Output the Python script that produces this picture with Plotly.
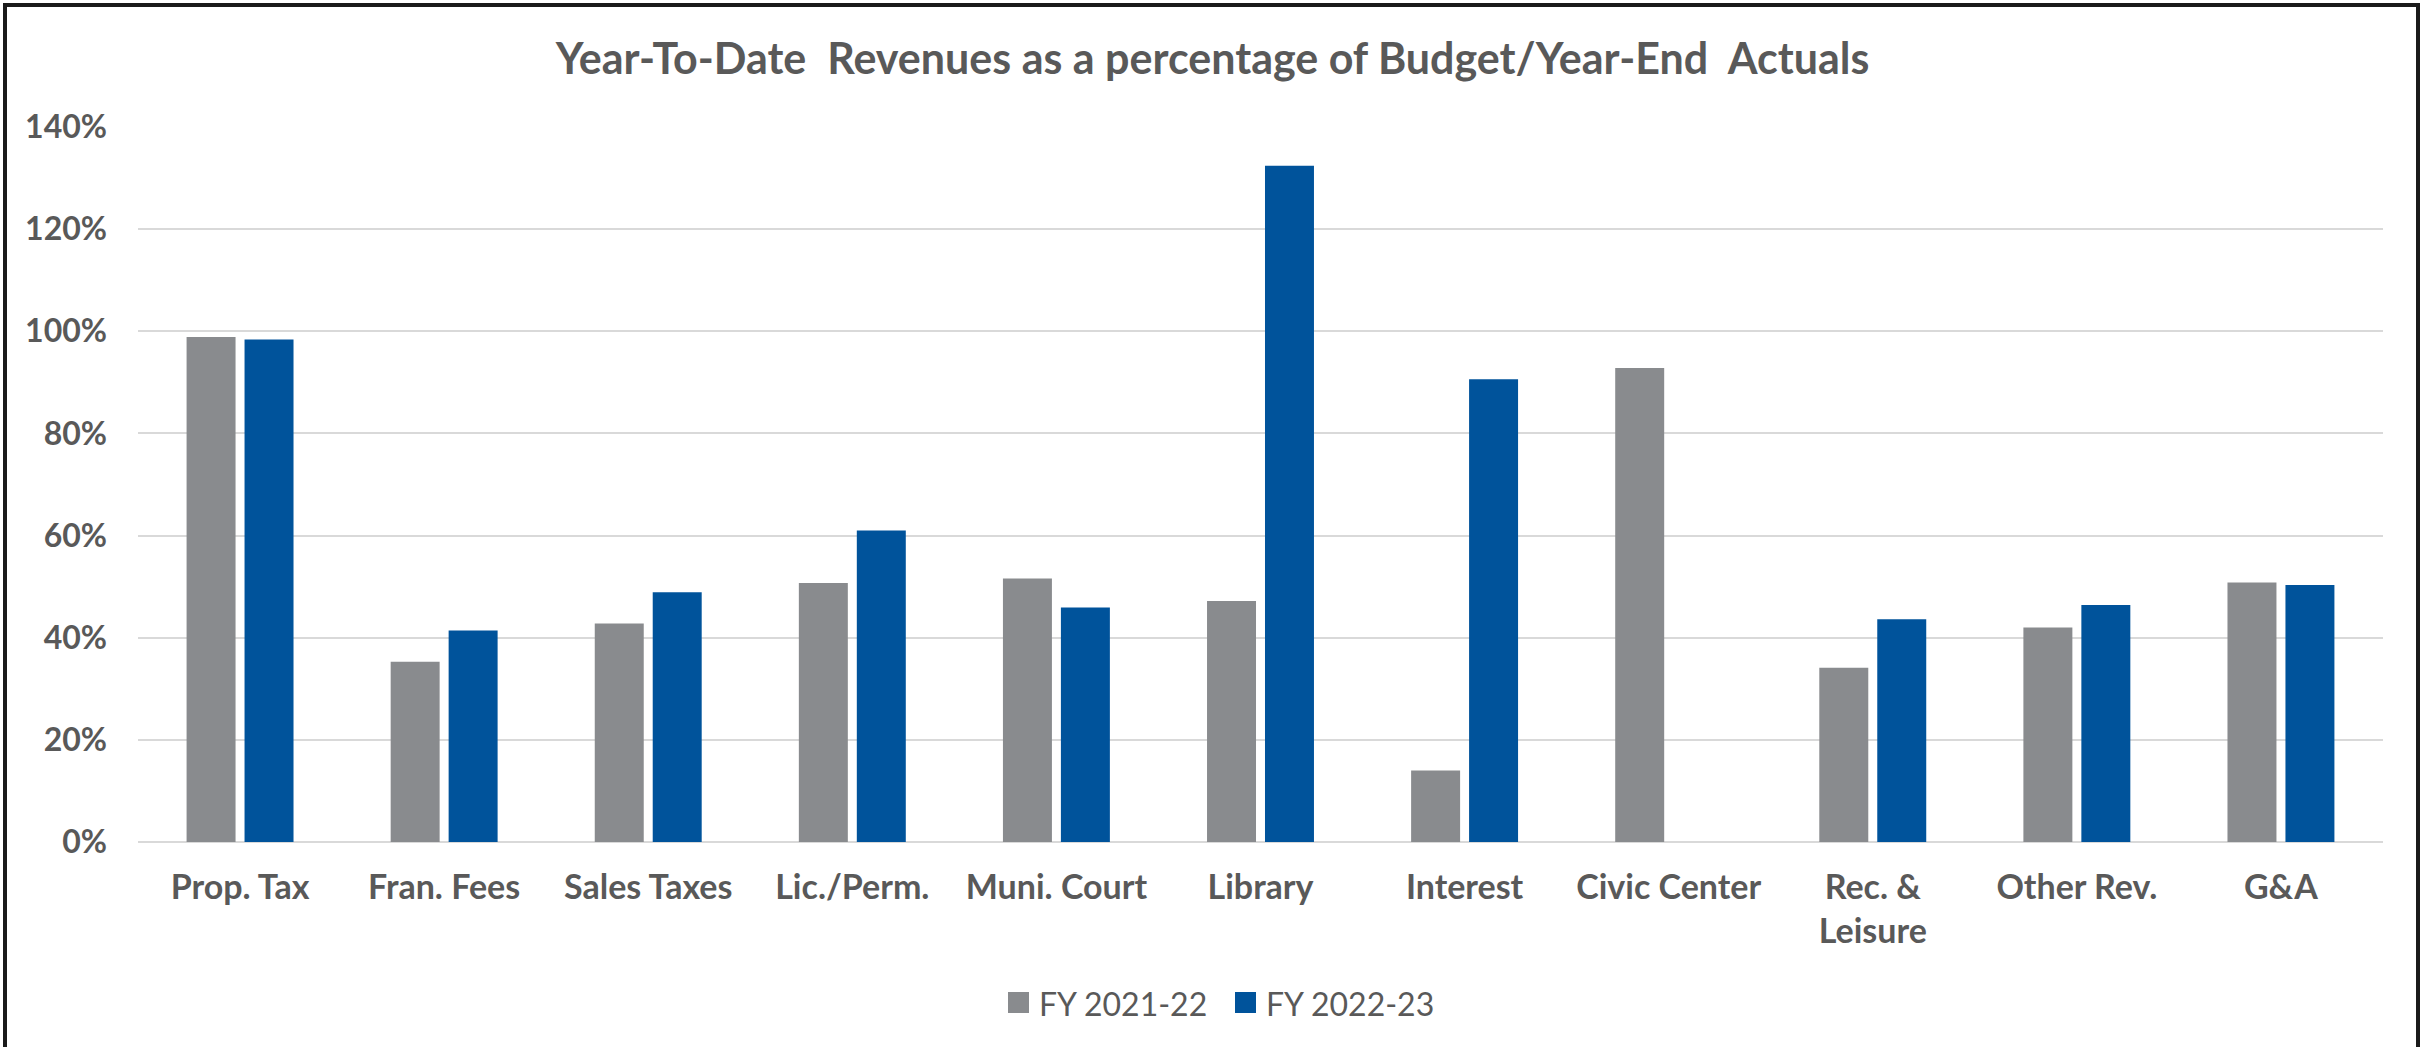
import plotly.graph_objects as go

# Revenue categories and year-to-date collections as a share of budget / year-end actuals
categories = ["Prop. Tax", "Fran. Fees", "Sales Taxes", "Lic./Perm.", "Muni. Court",
              "Library", "Interest", "Civic Center", "Rec. &<br>Leisure", "Other Rev.", "G&A"]
fy_2021_22 = [0.989, 0.353, 0.428, 0.507, 0.516, 0.472, 0.140, 0.928, 0.341, 0.420, 0.508]
fy_2022_23 = [0.984, 0.414, 0.489, 0.610, 0.459, 1.324, 0.906, None, 0.436, 0.464, 0.503]
series_names = ["FY 2021-22", "FY 2022-23"]
series_colors = ["#898B8E", "#00539B"]
y_ticks = [0, 0.2, 0.4, 0.6, 0.8, 1.0, 1.2, 1.4]

W, H = 2425, 1047
ML, MR, MT, MB = 138, 42, 127, 205
PW, PH = W - ML - MR, H - MT - MB
TEXT = "#595959"
FONT = "Lato"


def px_x(x):
    """Pixel column -> paper x."""
    return (x - ML) / PW


def px_y(y):
    """Pixel row -> paper y."""
    return (H - MB - y) / PH


fig = go.Figure()
for name, vals, color in zip(series_names, [fy_2021_22, fy_2022_23], series_colors):
    fig.add_trace(go.Bar(x=categories, y=vals, name=name, marker_color=color,
                         marker_line_width=0, showlegend=False))

# Legend: colour swatches with labels, centred under the plot
legend_x = [1008, 1235]
shapes = []
annotations = []
for lx, name, color in zip(legend_x, series_names, series_colors):
    shapes.append(dict(type="rect", xref="paper", yref="paper",
                       x0=px_x(lx), x1=px_x(lx + 21), y0=px_y(1013), y1=px_y(992),
                       fillcolor=color, line_width=0))
    annotations.append(dict(text=name, xref="paper", yref="paper", x=px_x(lx + 29), y=px_y(1003),
                            xanchor="left", yanchor="middle", showarrow=False,
                            font=dict(family=FONT, size=32, color=TEXT)))

# Outer frame
shapes.append(dict(type="rect", xref="paper", yref="paper",
                   x0=px_x(5), x1=px_x(2418), y0=px_y(1070), y1=px_y(5),
                   line=dict(color="#1a1a1a", width=4), fillcolor="rgba(0,0,0,0)", layer="above"))

fig.update_layout(
    width=W, height=H,
    margin=dict(l=ML, r=MR, t=MT, b=MB),
    paper_bgcolor="white", plot_bgcolor="white",
    barmode="group", bargap=0.432, bargroupgap=0.155,
    title=dict(text="<b>Year-To-Date  Revenues as a percentage of Budget/Year-End  Actuals</b>",
               x=0.5, xref="container", xanchor="center",
               y=1 - 59 / H, yref="container", yanchor="middle",
               font=dict(family=FONT, size=43, color=TEXT)),
    font=dict(family=FONT, color=TEXT),
    shapes=shapes, annotations=annotations,
    showlegend=False,
)
fig.update_xaxes(showgrid=False, showline=False, ticks="",
                 tickfont=dict(family=FONT, size=34, color=TEXT, weight="bold"),
                 ticklabelstandoff=22)
fig.update_yaxes(range=[0, 1.4], tickvals=y_ticks, tickformat=".0%",
                 showgrid=True, gridcolor="#D9D9D9", gridwidth=2,
                 zeroline=True, zerolinecolor="#D9D9D9", zerolinewidth=2,
                 showline=False, ticks="",
                 tickfont=dict(family=FONT, size=32, color=TEXT, weight="bold"),
                 ticklabelstandoff=30)

fig.write_html("out.html")
